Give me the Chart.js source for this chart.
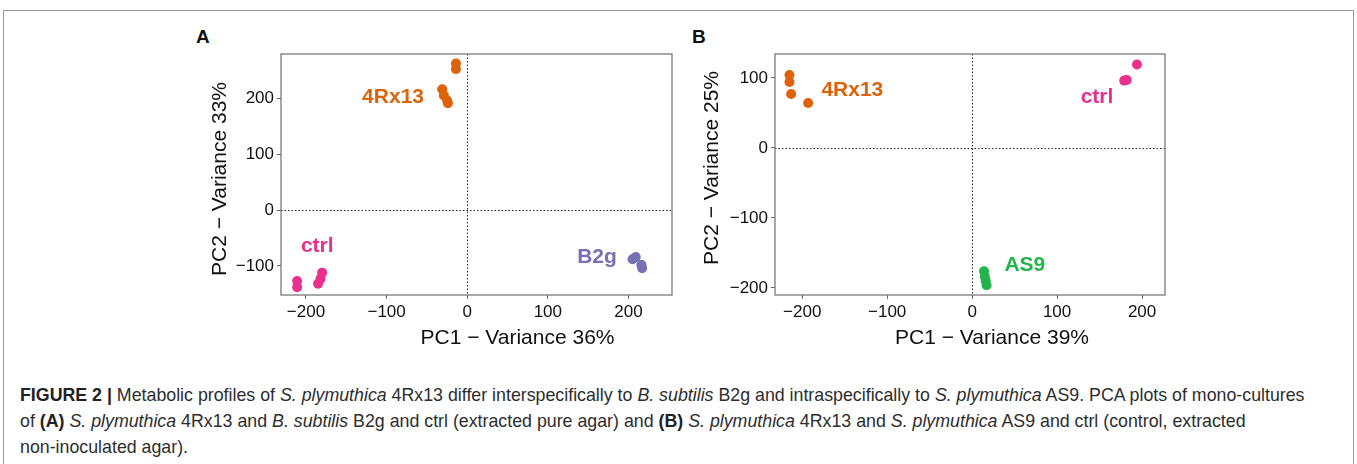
<!DOCTYPE html>
<html>
<head>
<meta charset="utf-8">
<script src="https://cdn.jsdelivr.net/npm/chart.js@4.4.1/dist/chart.umd.min.js"></script>
<style>
  body { margin: 0; background: #fff; width: 1357px; height: 464px; overflow: hidden; position: relative;
         font-family: "Liberation Sans", Arial, sans-serif; }
  #frame { position: absolute; left: 3px; top: 10px; width: 1349px; height: 470px; border: 1px solid #9a9a9a; border-bottom: none; }
  .panel { position: absolute; top: 40px; }
  .letter { position: absolute; top: 26px; font-weight: bold; font-size: 19px; color: #111; }
  #caption { position: absolute; left: 20px; top: 382px; font-family: "Liberation Sans", Arial, sans-serif;
             font-size: 17.8px; line-height: 26px; color: #2d2d2d; white-space: nowrap; }
  #caption b { color: #222; }
</style>
</head>
<body>
<div id="frame"></div>
<div class="letter" style="left:196px">A</div>
<div class="letter" style="left:692px">B</div>
<canvas id="chartA" class="panel" style="left:190px" width="490" height="310"></canvas>
<canvas id="chartB" class="panel" style="left:685px" width="490" height="310"></canvas>
<div id="caption">
  <div><b>FIGURE 2 |</b> Metabolic profiles of <i>S. plymuthica</i> 4Rx13 differ interspecifically to <i>B. subtilis</i> B2g and intraspecifically to <i>S. plymuthica</i> AS9. PCA plots of mono-cultures</div>
  <div>of <b>(A)</b> <i>S. plymuthica</i> 4Rx13 and <i>B. subtilis</i> B2g and ctrl (extracted pure agar) and <b>(B)</b> <i>S. plymuthica</i> 4Rx13 and <i>S. plymuthica</i> AS9 and ctrl (control, extracted</div>
  <div>non-inoculated agar).</div>
</div>
<script>
// panel A data (PC1, PC2)
const groupsA = ['4Rx13', 'ctrl', 'B2g'];
const a4Rx13 = [[-14, 262], [-14, 252], [-31, 216], [-29, 205], [-25, 196], [-24, 191]];
const aCtrl = [[-211, -127], [-211, -138], [-185, -132], [-182, -123], [-180, -112]];
const aB2g = [[205, -88], [209, -84], [216, -98], [217, -104]];
const labelPosA = [[-92, 202], [-186, -64], [161, -84]];
const xTicksA = [-200, -100, 0, 100, 200];
const yTicksA = [-100, 0, 100, 200];

// panel B data
const groupsB = ['4Rx13', 'ctrl', 'AS9'];
const b4Rx13 = [[-215, 104], [-215, 94], [-213, 77], [-193, 64]];
const bCtrl = [[194, 119], [179, 96], [182, 97]];
const bAS9 = [[14, -176], [15, -184], [16, -190], [17, -196]];
const labelPosB = [[-141, 83], [147, 73], [62, -167]];
const xTicksB = [-200, -100, 0, 100, 200];
const yTicksB = [-200, -100, 0, 100];

const colors = { '4Rx13': '#DD620A', 'ctrl': '#E8308C', 'B2g': '#7670B4', 'AS9': '#22B34A' };
const FONT = '"Liberation Sans", Arial, sans-serif';

const fmt = v => String(v).replace('-', '\u2212');

const panelPlugin = {
  id: 'panelDeco',
  beforeDatasetsDraw(chart) {
    const { ctx, chartArea: a, scales } = chart;
    ctx.save();
    ctx.strokeStyle = '#222';
    ctx.lineWidth = 1;
    ctx.setLineDash([1.5, 2]);
    const x0 = Math.round(scales.x.getPixelForValue(0)) + 0.5;
    const y0 = Math.round(scales.y.getPixelForValue(0)) + 0.5;
    ctx.beginPath();
    ctx.moveTo(x0, a.top); ctx.lineTo(x0, a.bottom);
    ctx.moveTo(a.left, y0); ctx.lineTo(a.right, y0);
    ctx.stroke();
    ctx.restore();
  },
  afterDraw(chart, args, opts) {
    const { ctx, chartArea: a, scales } = chart;
    ctx.save();
    ctx.strokeStyle = '#7a7a7a';
    ctx.lineWidth = 1.3;
    ctx.strokeRect(a.left, a.top, a.right - a.left, a.bottom - a.top);

    ctx.font = 'bold 21px ' + FONT;
    ctx.textAlign = 'center';
    ctx.textBaseline = 'middle';
    opts.groups.forEach((g, i) => {
      ctx.fillStyle = colors[g];
      ctx.fillText(g, scales.x.getPixelForValue(opts.labelPos[i][0]), scales.y.getPixelForValue(opts.labelPos[i][1]));
    });

    ctx.fillStyle = '#111';
    ctx.font = '21px ' + FONT;
    ctx.fillText(opts.xTitle, (a.left + a.right) / 2 + opts.xShift, 298);
    ctx.translate(opts.yTitleX, opts.yTitleY);
    ctx.rotate(-Math.PI / 2);
    ctx.fillText(opts.yTitle, 0, 0);
    ctx.restore();
  }
};

function makePanel(id, groups, series, labelPos, xTicks, yTicks, xr, yr, deco) {
  const ctx = document.getElementById(id).getContext('2d');
  const tickStyle = { font: { family: FONT, size: 17 }, color: '#111', callback: v => fmt(v) };
  return new Chart(ctx, {
    type: 'scatter',
    data: {
      datasets: groups.map((g, i) => ({
        label: g,
        data: series[i].map(([x, y]) => ({ x, y })),
        backgroundColor: colors[g],
        pointRadius: 5,
        pointBorderWidth: 0,
        pointHoverRadius: 5
      }))
    },
    options: {
      responsive: false,
      animation: false,
      layout: { padding: { top: 14, right: deco.right, left: 0, bottom: 0 } },
      scales: {
        x: {
          type: 'linear', min: xr[0], max: xr[1],
          afterBuildTicks: s => { s.ticks = xTicks.map(v => ({ value: v })); },
          afterFit: s => { s.height = 55; },
          grid: { drawOnChartArea: false, drawTicks: true, tickLength: 4, color: '#666' },
          border: { display: false },
          ticks: Object.assign({ padding: 3, maxRotation: 0 }, tickStyle)
        },
        y: {
          type: 'linear', min: yr[0], max: yr[1],
          afterBuildTicks: s => { s.ticks = yTicks.map(v => ({ value: v })); },
          afterFit: s => { s.width = deco.left; },
          grid: { drawOnChartArea: false, drawTicks: true, tickLength: 4, color: '#666' },
          border: { display: false },
          ticks: Object.assign({ padding: 3 }, tickStyle)
        }
      },
      plugins: {
        legend: { display: false },
        tooltip: { enabled: false },
        panelDeco: Object.assign({ groups, labelPos }, deco)
      }
    },
    plugins: [panelPlugin]
  });
}

makePanel('chartA', groupsA, [a4Rx13, aCtrl, aB2g], labelPosA, xTicksA, yTicksA, [-231, 254], [-152, 279],
  { left: 91, right: 8, xTitle: 'PC1 \u2212 Variance 36%', xShift: 41, yTitle: 'PC2 \u2212 Variance 33%', yTitleX: 30, yTitleY: 139 });
makePanel('chartB', groupsB, [b4Rx13, bCtrl, bAS9], labelPosB, xTicksB, yTicksB, [-232, 227], [-210, 134],
  { left: 90, right: 10, xTitle: 'PC1 \u2212 Variance 39%', xShift: 22, yTitle: 'PC2 \u2212 Variance 25%', yTitleX: 27, yTitleY: 128 });
</script>
</body>
</html>
